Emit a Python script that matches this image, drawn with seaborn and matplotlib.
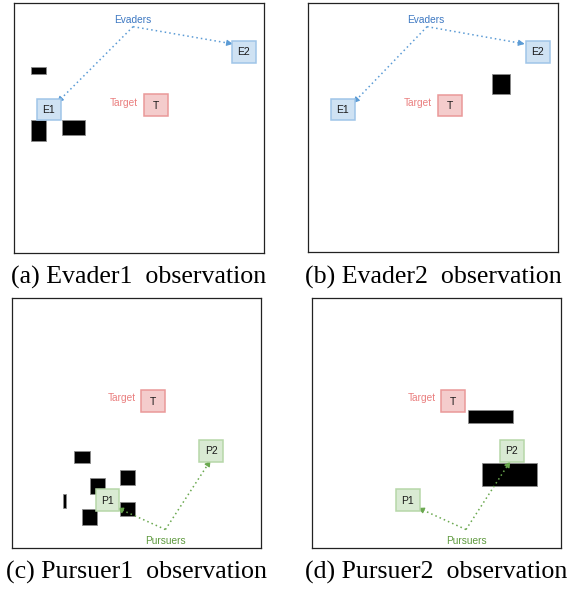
import matplotlib
matplotlib.use("Agg")
import matplotlib.pyplot as plt
from matplotlib.patches import Rectangle
import seaborn as sns

sns.set_theme(style="white")
plt.rcParams["font.family"] = ["Liberation Sans", "DejaVu Sans"]

# -------------------------------
# Data (panel coordinates, 0-250, y grows downwards)
# -------------------------------
captions = ["(a) Evader1  observation", "(b) Evader2  observation",
            "(c) Pursuer1  observation", "(d) Pursuer2  observation"]

# agent boxes: label, left, top, width, height
boxes_a = [("E1", 22.7, 95.7, 24, 22), ("E2", 218.3, 37.7, 24, 22), ("T", 130.3, 91.3, 24, 22)]
boxes_b = [("E1", 22.3, 96.0, 24, 22), ("E2", 217.7, 38.0, 24, 22), ("T", 130.0, 92.0, 24, 22)]
boxes_c = [("P1", 84.0, 191.3, 24, 22), ("P2", 187.7, 142.0, 24, 22), ("T", 129.7, 92.0, 24, 22)]
boxes_d = [("P1", 84.3, 191.3, 24, 22), ("P2", 188.3, 142.0, 24, 22), ("T", 130.0, 92.0, 24, 22)]

# obstacles: left, top, right, bottom
obstacles_a = [(16.7, 63.7, 32.3, 70.7), (16.7, 117.7, 32.3, 138.3), (47.7, 117.7, 70.7, 132.7)]
obstacles_b = [(183.7, 71.3, 202.3, 91.0)]
obstacles_c = [(62.3, 153.3, 78.0, 164.7), (78.3, 180.3, 93.7, 195.7), (108.7, 172.3, 123.3, 187.3),
               (109.0, 203.7, 123.3, 218.3), (70.3, 211.0, 85.7, 226.7), (51.3, 195.7, 54.7, 210.3)]
obstacles_d = [(156.7, 112.0, 202.0, 125.3), (171.0, 165.0, 225.3, 188.0)]

# team label (text, x, y), arrow origin and arrow tips
team_a = ("Evaders", 118.7, 17.0, (119.3, 23.7), [(43.3, 99.7), (219.3, 41.0)])
team_b = ("Evaders", 117.7, 17.3, (119.0, 24.0), [(45.0, 100.6), (216.7, 41.3)])
team_c = ("Pursuers", 154.0, 242.7, (154.0, 231.7), [(105.7, 210.0), (199.3, 162.3)])
team_d = ("Pursuers", 154.6, 242.7, (154.6, 231.7), [(106.6, 210.0), (199.0, 163.3)])

target_label = ("Target", 124.0, 100.3)

# panel placement in figure pixels (left, top)
panel_origin = [(14.0, 3.0), (308.3, 2.7), (11.7, 298.3), (311.7, 298.3)]
panel_size = 249.5
caption_y = [277, 277, 572, 572]

# -------------------------------
# Styles
# -------------------------------
box_style = {
    "E": ("#cfe2f3", "#9fc5e8"),
    "P": ("#d9ead3", "#b6d7a8"),
    "T": ("#f4cccc", "#ea9999"),
}
team_text = {"Evaders": "#3d78c2", "Pursuers": "#5f9a3f"}
team_line = {"Evaders": "#5b9bd5", "Pursuers": "#6aa84f"}

W, H = 576, 593
fig = plt.figure(figsize=(W / 100, H / 100), dpi=100)

panels = [
    (boxes_a, obstacles_a, team_a),
    (boxes_b, obstacles_b, team_b),
    (boxes_c, obstacles_c, team_c),
    (boxes_d, obstacles_d, team_d),
]

for i, (boxes, obstacles, team) in enumerate(panels):
    x0, y0 = panel_origin[i]
    ax = fig.add_axes([x0 / W, (H - y0 - panel_size) / H, panel_size / W, panel_size / H])
    ax.set_xlim(0, 250)
    ax.set_ylim(250, 0)
    ax.set_xticks([])
    ax.set_yticks([])
    for s in ax.spines.values():
        s.set_color("#222222")
        s.set_linewidth(0.9)
    ax.set_facecolor("white")

    # obstacles
    for (l, t, r, b) in obstacles:
        ax.add_patch(Rectangle((l, t), r - l, b - t, facecolor="black",
                               edgecolor="#8a8a8a", lw=0.6, zorder=2))

    # dotted arrows
    name, tx, ty, origin, tips = team
    col = team_line[name]
    for (px, py) in tips:
        ax.plot([origin[0], px], [origin[1], py], color=col, lw=1.1,
                ls=(0, (1, 2.0)), zorder=3)
        dx, dy = px - origin[0], py - origin[1]
        ln = (dx ** 2 + dy ** 2) ** 0.5
        ax.annotate("", xy=(px, py), xytext=(px - dx / ln * 5, py - dy / ln * 5),
                    arrowprops=dict(arrowstyle="-|>", color=col, lw=0.8,
                                    mutation_scale=9, shrinkA=0, shrinkB=0),
                    zorder=3)
    ax.text(tx, ty, name, color=team_text[name], fontsize=7.3,
            ha="center", va="center", zorder=4)

    # boxes
    for (lab, l, t, w, h) in boxes:
        fc, ec = box_style[lab[0]]
        ax.add_patch(Rectangle((l, t), w, h, facecolor=fc, edgecolor=ec, lw=1.1, zorder=5))
        ax.text(l + w / 2, t + h / 2 + 0.5, lab, fontsize=7.5, color="#1a1a1a",
                ha="center", va="center", zorder=6)

    ax.text(target_label[1], target_label[2], target_label[0], color="#ea7f7f",
            fontsize=7.3, ha="right", va="center", zorder=4)

    # caption
    fig.text((x0 + panel_size / 2) / W, 1 - caption_y[i] / H, captions[i],
             fontsize=18.6, family=["Liberation Serif", "DejaVu Serif"],
             ha="center", va="center", color="black")

fig.savefig("out.png", dpi=100)
